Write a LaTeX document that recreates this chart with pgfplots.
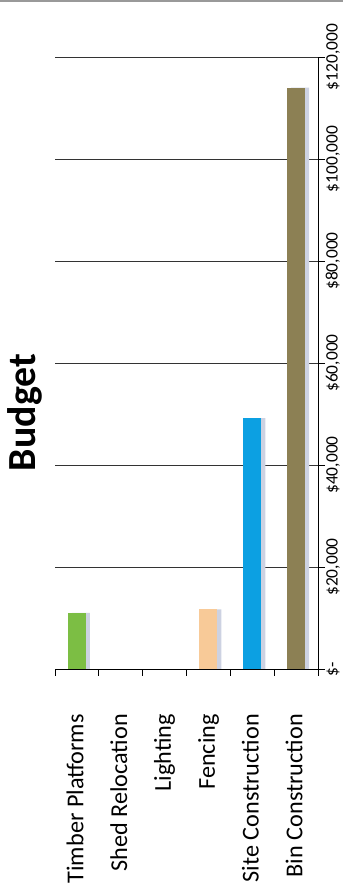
\documentclass[border=0pt]{standalone}
\usepackage{fontspec}
\setmainfont{Carlito}
\usepackage{pgfplots}
\pgfplotsset{compat=1.18}
\definecolor{cTimber}{RGB}{124,190,68}
\definecolor{cFencing}{RGB}{248,202,152}
\definecolor{cSite}{RGB}{12,160,226}
\definecolor{cBin}{RGB}{140,128,84}
\definecolor{cShadow}{RGB}{205,210,226}
\begin{document}
\begin{tikzpicture}
\useasboundingbox (0,0) rectangle (343bp,894bp);
\fill[black!40] (0,892bp) rectangle (343bp,894bp);
\begin{axis}[
  at={(55bp,225bp)}, anchor=south west,
  scale only axis, width=263bp, height=612bp,
  xmin=-0.5, xmax=5.5, ymin=0, ymax=120000,
  axis x line*=bottom, axis y line*=right,
  /pgf/number format/assume math mode=true,
  scaled y ticks=false,
  xtick={-0.5,0.5,1.5,2.5,3.5,4.5,5.5},
  x tick label as interval,
  xticklabels={Timber Platforms,Shed Relocation,Lighting,Fencing,Site Construction,Bin Construction},
  ytick={0,20000,40000,60000,80000,100000,120000},
  yticklabels={{\$-},{\$20,000},{\$40,000},{\$60,000},{\$80,000},{\$100,000},{\$120,000}},
  tick align=outside, major tick length=7bp,
  ymajorgrids, grid style={black!80, line width=0.5pt},
  axis line style={black, line width=0.8pt},
  tick style={black, line width=0.8pt},
  x tick label style={xshift=3bp, rotate=90, anchor=east, font=\fontsize{24.3}{24.3}\selectfont,
     text height=0.95em, text depth=0.27em, inner sep=0pt},
  yticklabel style={rotate=90, anchor=north, font=\fontsize{17.5}{17.5}\selectfont,
     text height=0.75em, text depth=0.2em, inner sep=0pt},
  xticklabel shift=38bp, yticklabel shift=5bp,
  ybar, bar width=18bp,
]
\addplot[fill=cShadow, draw=none, bar shift=4bp] coordinates {(0,11000) (3,11700) (4,49200) (5,114000)};
\addplot[fill=cTimber, draw=none, bar shift=0pt] coordinates {(0,11000)};
\addplot[fill=cFencing, draw=none, bar shift=0pt] coordinates {(3,11700)};
\addplot[fill=cSite, draw=none, bar shift=0pt] coordinates {(4,49200)};
\addplot[fill=cBin, draw=none, bar shift=0pt] coordinates {(5,114000)};
\end{axis}
\node[rotate=90, anchor=base, font=\bfseries\fontsize{40}{40}\selectfont] at (35bp,481.5bp) {Budget};
\end{tikzpicture}
\end{document}
